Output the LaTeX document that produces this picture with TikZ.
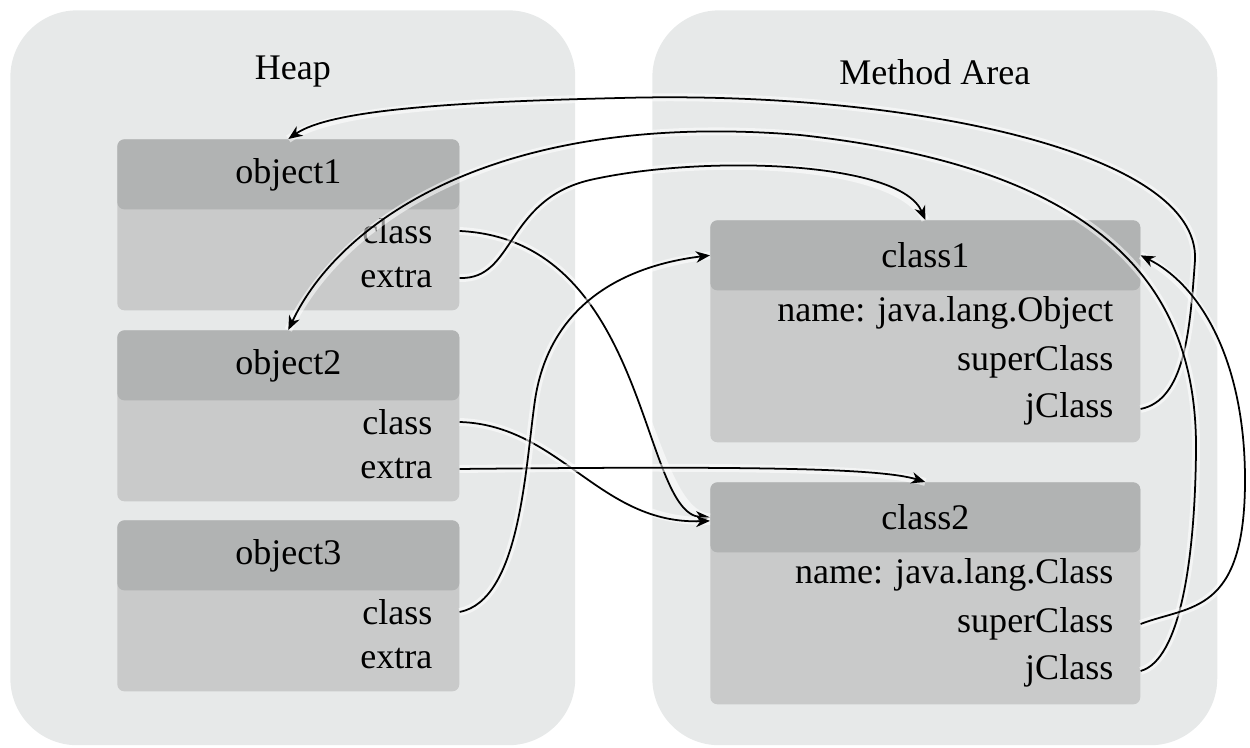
\documentclass[tikz,border=0pt]{standalone}
\usepackage{fontspec}
\setmainfont{Liberation Serif}
\usetikzlibrary{arrows.meta}
\definecolor{panelc}{RGB}{231,233,233}
\definecolor{headc}{RGB}{177,179,179}
\definecolor{bodyc}{RGB}{201,202,202}
\tikzset{>={Stealth[length=8pt,width=6.5pt,inset=2.5pt]}}
\tikzset{panel/.style={fill=panelc,rounded corners=38pt,minimum width=11.3cm,minimum height=14.7cm,anchor=north west,inner sep=0pt}}
\tikzset{bd/.style={fill=bodyc,rounded corners=4pt,anchor=north west,inner sep=0pt}}
\tikzset{hd/.style={fill=headc,rounded corners=4pt,anchor=north west,inner sep=0pt,minimum height=1.4cm}}
\tikzset{fld/.style={anchor=east,inner xsep=0.54cm,inner ysep=0pt}}
\tikzset{link/.style={->,line width=1pt,preaction={draw=white,line width=4.5pt,opacity=.55,-}}}

\begin{document}
\begin{tikzpicture}[x=0.02cm,y=-0.02cm,font=\fontsize{20.5}{24}\selectfont]
\useasboundingbox(0,0)rectangle(1250,747);
\node(heap)[panel]at(10,10){};\node(meth)[panel]at(652,10){};
\node(heapt)at([yshift=-1.24cm]heap.north){Heap};\node(metht)at([yshift=-1.24cm]meth.north){Method Area};
% heap objects
\foreach \i/\y in {1/139,2/330,3/520}{
\node(o\i)[bd,minimum width=6.84cm,minimum height=3.42cm]at(117,\y){};
\node(oh\i)[hd,minimum width=6.84cm]at(117,\y){object\i};
\node(oc\i)[fld]at([yshift=-1.84cm]o\i.north east){class};
\node(oe\i)[fld]at([yshift=-2.78cm]o\i.north east){extra};
}
% classes in the method area
\foreach \i/\y/\n in {1/220/Object,2/482/Class}{
\node(c\i)[bd,minimum width=8.6cm,minimum height=4.44cm]at(710,\y){};
\node(ch\i)[hd,minimum width=8.6cm]at(710,\y){class\i};
\node(cn\i)[fld]at([yshift=-1.86cm]c\i.north east){name: java.lang.\n};
\node(cs\i)[fld]at([yshift=-2.84cm]c\i.north east){superClass};
\node(cj\i)[fld]at([yshift=-3.78cm]c\i.north east){jClass};
}
\draw[link](oc1.east)..controls(650,240)and(640,515)..(ch2.west);
\draw[link](oe1.east)..controls(515,280)and(505,200)..(590,180)..controls(700,155)and(900,160)..(ch1.north);
\draw[link](oc2.east)..controls(560,425)and(600,525)..([yshift=-2pt]ch2.west);
\draw[link](oe2.east)..controls(750,466)and(880,468)..(ch2.north);
\draw[link](oc3.east)..controls(520,600)and(525,470)..(535,400)..controls(550,300)and(630,265)..(ch1.west);
\draw[link](cj1.east)..controls(1185,400)and(1190,330)..(1195,260)..controls(1200,150)and(900,90)..(620,98)..controls(450,102)and(330,110)..(oh1.north);
\draw[link](cj2.east)..controls(1180,660)and(1195,560)..(1196,450)..controls(1197,300)and(1120,170)..(800,135)..controls(500,110)and(340,220)..(oh2.north);
\draw[link](cs2.east)..controls(1190,605)and(1245,615)..(1245,480)..controls(1245,360)and(1200,285)..(ch1.east);
\end{tikzpicture}
\end{document}
